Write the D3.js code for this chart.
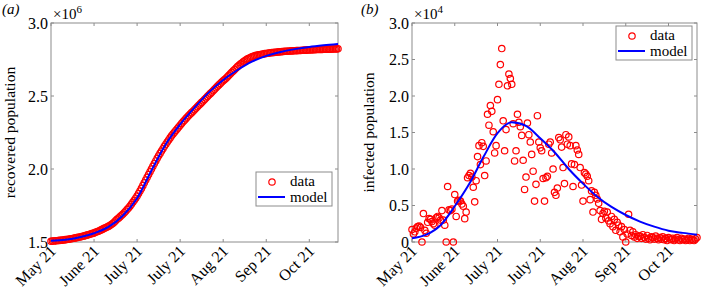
<!DOCTYPE html>
<html>
<head>
<meta charset="utf-8">
<script src="https://cdn.jsdelivr.net/npm/d3@7"></script>
<style>
  body { margin: 0; background: #fff; }
</style>
</head>
<body>
<div id="chart"></div>
<script>
// x-axis tick positions (days since start) and their labels
const tickDays = [0, 30, 60, 90, 120, 150, 180];
const tickLabels = ["May 21", "June 21", "July 21", "July 21", "Aug 21", "Sep 21", "Oct 21"];

// (a) recovered population, daily data (x10^6)
const recoveredData = [
  1.505,1.506,1.507,1.508,1.509,1.510,1.511,1.512,1.513,1.514,
  1.516,1.517,1.519,1.520,1.522,1.524,1.526,1.528,1.530,1.532,
  1.534,1.536,1.539,1.541,1.544,1.547,1.550,1.553,1.556,1.559,
  1.562,1.566,1.570,1.574,1.578,1.583,1.588,1.593,1.598,1.602,
  1.607,1.613,1.620,1.627,1.635,1.645,1.655,1.663,1.672,1.681,
  1.690,1.700,1.711,1.722,1.733,1.745,1.758,1.772,1.786,1.800,
  1.815,1.832,1.849,1.867,1.886,1.905,1.924,1.943,1.962,1.981,
  2.000,2.019,2.037,2.055,2.073,2.090,2.107,2.123,2.139,2.155,
  2.170,2.185,2.199,2.213,2.227,2.240,2.252,2.264,2.276,2.288,
  2.300,2.312,2.323,2.334,2.345,2.356,2.366,2.376,2.386,2.396,
  2.406,2.416,2.426,2.436,2.446,2.456,2.466,2.476,2.486,2.496,
  2.506,2.516,2.526,2.536,2.546,2.556,2.566,2.576,2.586,2.596,
  2.604,2.613,2.622,2.632,2.642,2.652,2.662,2.672,2.682,2.692,
  2.701,2.710,2.718,2.726,2.734,2.741,2.748,2.754,2.759,2.764,
  2.768,2.772,2.775,2.778,2.780,2.782,2.784,2.786,2.788,2.790,
  2.791,2.793,2.794,2.796,2.797,2.798,2.799,2.800,2.801,2.802,
  2.803,2.804,2.805,2.806,2.806,2.807,2.808,2.808,2.809,2.810,
  2.810,2.811,2.811,2.812,2.812,2.813,2.813,2.814,2.814,2.815,
  2.815,2.816,2.816,2.817,2.817,2.818,2.818,2.818,2.819,2.819,
  2.820,2.820,2.820,2.821,2.821,2.821,2.822,2.822,2.822,2.823,
  2.823
];
// (a) model, sampled every 10 days (x10^6)
const modelDays = [0,10,20,30,40,50,60,70,80,90,100,110,120,130,140,150,160,170,180,190,200];
const recoveredModel = [1.508,1.515,1.532,1.560,1.603,1.680,1.800,1.990,2.170,2.305,2.420,2.525,2.610,2.678,2.735,2.775,2.802,2.821,2.836,2.847,2.856];

// (b) infected population, daily data (x10^4)
const infectedData = [
  0.17,0.11,0.14,0.19,0.21,0.22,0.20,0.00,0.39,0.16,
  0.12,0.27,0.32,0.31,0.28,0.25,0.23,0.33,0.35,0.33,
  0.30,0.43,0.30,0.23,0.00,0.76,0.44,0.43,0.45,0.00,
  0.65,0.35,0.56,0.57,0.56,0.52,0.49,0.32,0.41,0.88,
  0.91,0.94,0.89,0.75,0.55,0.84,1.17,1.32,1.06,1.36,
  1.31,0.91,1.11,1.75,1.60,1.87,1.79,1.51,1.22,1.32,
  1.95,2.16,2.43,2.65,1.66,1.25,1.54,2.14,2.30,2.24,
  2.16,1.62,1.11,1.25,1.75,1.64,1.58,1.46,1.12,0.72,
  0.89,1.63,1.47,1.37,1.20,0.97,0.56,0.79,1.73,1.37,
  1.29,1.25,0.87,0.56,0.88,0.90,1.34,1.37,1.22,1.00,
  0.68,0.64,0.74,1.43,1.40,1.30,1.02,0.80,1.47,1.34,
  1.44,1.32,1.07,0.76,1.06,1.32,1.26,1.20,1.02,0.78,
  0.56,0.95,0.93,0.90,0.84,0.58,0.70,0.41,0.68,0.64,
  0.59,0.53,0.43,0.31,0.39,0.42,0.33,0.41,0.29,0.25,
  0.35,0.21,0.31,0.16,0.27,0.23,0.14,0.21,0.07,0.17,
  0.00,0.11,0.38,0.16,0.09,0.14,0.07,0.10,0.05,0.08,
  0.08,0.05,0.10,0.06,0.04,0.09,0.05,0.03,0.07,0.06,
  0.04,0.08,0.05,0.03,0.06,0.04,0.07,0.03,0.05,0.02,
  0.06,0.04,0.03,0.05,0.02,0.04,0.06,0.03,0.02,0.05,
  0.03,0.04,0.02,0.03,0.05,0.02,0.04,0.03,0.02,0.04,
  0.06
];
// (b) model, sampled every 10 days (x10^4)
const infectedModel = [0.05,0.10,0.23,0.49,0.79,1.16,1.49,1.64,1.59,1.42,1.23,1.00,0.80,0.62,0.48,0.37,0.28,0.21,0.155,0.125,0.10];

const yTicksA = [1.5, 2.0, 2.5, 3.0];
const yTicksB = [0, 0.5, 1.0, 1.5, 2.0, 2.5, 3.0];

const W = 701, H = 292;
const svg = d3.select("#chart").append("svg")
    .attr("width", W)
    .attr("height", H)
    .attr("font-family", "'Liberation Serif', 'DejaVu Serif', serif");

const drawPanel = (opt) => {
    const x = d3.scaleLinear().domain([0, 200]).range([opt.left, opt.right]);
    const y = d3.scaleLinear().domain(opt.yDomain).range([opt.bottom, opt.top]);
    const g = svg.append("g");
    const axisColor = "#8c8c8c";

    // box
    g.append("rect")
        .attr("x", opt.left).attr("y", opt.top)
        .attr("width", opt.right - opt.left).attr("height", opt.bottom - opt.top)
        .attr("fill", "none").attr("stroke", axisColor).attr("stroke-width", 1);

    // ticks on all four sides, pointing inward
    const tl = 3;
    tickDays.forEach(d => {
        g.append("line").attr("x1", x(d)).attr("x2", x(d)).attr("y1", opt.bottom).attr("y2", opt.bottom - tl).attr("stroke", axisColor);
        g.append("line").attr("x1", x(d)).attr("x2", x(d)).attr("y1", opt.top).attr("y2", opt.top + tl).attr("stroke", axisColor);
    });
    opt.yTicks.forEach(v => {
        g.append("line").attr("x1", opt.left).attr("x2", opt.left + tl).attr("y1", y(v)).attr("y2", y(v)).attr("stroke", axisColor);
        g.append("line").attr("x1", opt.right).attr("x2", opt.right - tl).attr("y1", y(v)).attr("y2", y(v)).attr("stroke", axisColor);
    });

    // y tick labels
    g.selectAll(".ylab").data(opt.yTicks).enter().append("text")
        .attr("x", opt.left - 3).attr("y", v => y(v))
        .attr("dy", "0.35em")
        .attr("text-anchor", "end")
        .style("font-size", "16px")
        .text(v => v === 0 ? "0" : v.toFixed(1));

    // x tick labels, rotated
    g.selectAll(".xlab").data(tickDays).enter().append("text")
        .attr("transform", (d) => `translate(${x(d) + 6}, ${opt.bottom + 10}) rotate(-45)`)
        .attr("text-anchor", "end")
        .style("font-size", "16px")
        .text((d, i) => tickLabels[i]);

    // exponent
    const ex = g.append("text").attr("x", opt.left + 2).attr("y", opt.top - 4).style("font-size", "15px");
    ex.append("tspan").text("\u00d710");
    ex.append("tspan").attr("dy", -6).style("font-size", "11px").text(opt.exp);

    // y label
    g.append("text")
        .attr("transform", `translate(${opt.ylabX}, ${(opt.top + opt.bottom) / 2}) rotate(-90)`)
        .attr("text-anchor", "middle")
        .style("font-size", "15.5px")
        .text(opt.ylabel);

    // panel tag
    g.append("text").attr("x", opt.tagX).attr("y", 14)
        .style("font-size", "15px").style("font-style", "italic")
        .text(opt.tag);

    // data circles
    g.selectAll(".pt").data(opt.data).enter().append("circle")
        .attr("cx", (d, i) => x(i))
        .attr("cy", d => y(d))
        .attr("r", 3.2)
        .attr("fill", "none")
        .attr("stroke", "#ff0000")
        .attr("stroke-width", 1.2);

    // model line
    const line = d3.line()
        .x((d, i) => x(modelDays[i]))
        .y(d => y(d))
        .curve(d3.curveMonotoneX);
    g.append("path").datum(opt.model)
        .attr("d", line)
        .attr("fill", "none")
        .attr("stroke", "#0000ff")
        .attr("stroke-width", 2);

    // legend
    const lg = g.append("g").attr("transform", `translate(${opt.legX}, ${opt.legY})`);
    lg.append("rect").attr("width", 76).attr("height", 34)
        .attr("fill", "#fff").attr("stroke", axisColor);
    lg.append("circle").attr("cx", 16).attr("cy", 10).attr("r", 3.2)
        .attr("fill", "none").attr("stroke", "#ff0000").attr("stroke-width", 1.2);
    lg.append("text").attr("x", 34).attr("y", 14).style("font-size", "15px").text("data");
    lg.append("line").attr("x1", 2).attr("x2", 29).attr("y1", 25).attr("y2", 25)
        .attr("stroke", "#0000ff").attr("stroke-width", 2);
    lg.append("text").attr("x", 34).attr("y", 30).style("font-size", "15px").text("model");
};

drawPanel({
    left: 51, right: 338, top: 23, bottom: 242,
    yDomain: [1.5, 3.0], yTicks: yTicksA, exp: "6",
    data: recoveredData, model: recoveredModel,
    ylabel: "recovered population", ylabX: 15,
    tag: "(a)", tagX: 2, legX: 256, legY: 172
});
drawPanel({
    left: 412, right: 697, top: 23, bottom: 242,
    yDomain: [0, 3.0], yTicks: yTicksB, exp: "4",
    data: infectedData, model: infectedModel,
    ylabel: "infected population", ylabX: 374,
    tag: "(b)", tagX: 361, legX: 616, legY: 26
});
</script>
</body>
</html>
